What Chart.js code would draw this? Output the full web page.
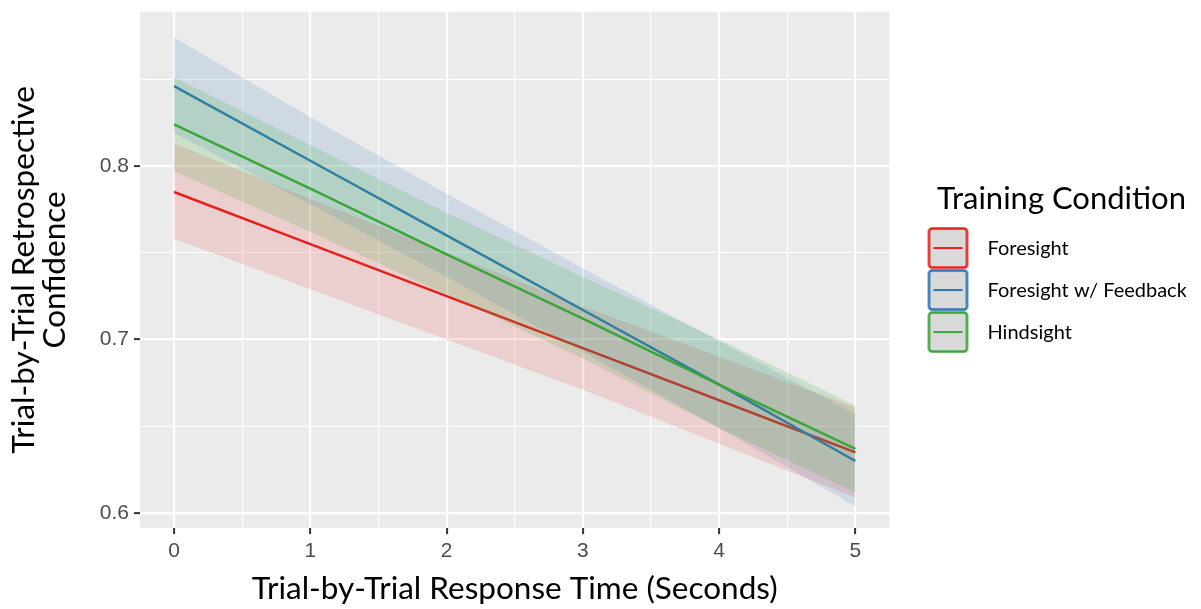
<!DOCTYPE html>
<html>
<head>
<meta charset="utf-8">
<script src="https://cdn.jsdelivr.net/npm/chart.js@4.4.1/dist/chart.umd.min.js"></script>
<style>
  html, body { margin: 0; padding: 0; background: #fff; }
  #wrap { width: 1201px; height: 609px; }
</style>
</head>
<body>
<div id="wrap"><canvas id="chart1"></canvas></div>
<script>
const timeSec = [0, 1, 2, 3, 4, 5]

const foresightFit   = [0.785, 0.755, 0.725, 0.695, 0.665, 0.635]
const foresightUpper = [0.813, 0.781, 0.750, 0.719, 0.690, 0.661]
const foresightLower = [0.758, 0.729, 0.700, 0.671, 0.640, 0.609]

const feedbackFit   = [0.846, 0.803, 0.760, 0.717, 0.674, 0.630]
const feedbackUpper = [0.874, 0.828, 0.784, 0.741, 0.699, 0.657]
const feedbackLower = [0.819, 0.778, 0.736, 0.693, 0.649, 0.604]

const hindsightFit   = [0.824, 0.787, 0.749, 0.712, 0.674, 0.637]
const hindsightUpper = [0.851, 0.812, 0.773, 0.736, 0.700, 0.662]
const hindsightLower = [0.797, 0.762, 0.726, 0.689, 0.649, 0.612]

const conditionNames = ['Foresight', 'Foresight w/ Feedback', 'Hindsight']
const xTicks = [0, 0.5, 1, 1.5, 2, 2.5, 3, 3.5, 4, 4.5, 5]
const yTicks = [0.6, 0.65, 0.7, 0.75, 0.8, 0.85]

const red = '#e8201c'
const blue = '#2e75b6'
const green = '#3aa63a'

function pts(arr) {
    return timeSec.map((t, i) => ({x: t, y: arr[i]}))
}

// legend key: grey box with coloured border and a line through it
function makeKey(color) {
    const c = document.createElement('canvas')
    c.width = 66
    c.height = 42
    const g = c.getContext('2d')
    g.fillStyle = '#d9d9d9'
    g.strokeStyle = color
    g.lineWidth = 2.5
    g.beginPath()
    g.roundRect(17.5, 1.5, 38, 39, 3)
    g.fill()
    g.stroke()
    g.beginPath()
    g.lineWidth = 2
    g.moveTo(22, 21)
    g.lineTo(51, 21)
    g.stroke()
    return c
}

const keyColors = [red, blue, green]

const bgPlugin = {
    id: 'panelBg',
    beforeDraw(chart) {
        const {ctx, chartArea} = chart
        ctx.save()
        ctx.fillStyle = '#ebebeb'
        ctx.fillRect(chartArea.left, chartArea.top, chartArea.right - chartArea.left, chartArea.bottom - chartArea.top)
        ctx.restore()
    }
}

function band(data, fillTo, color, order) {
    return {data: pts(data), borderWidth: 0, pointRadius: 0, fill: fillTo, backgroundColor: color, order: order}
}
function fitLine(label, data, color, order) {
    return {label: label, data: pts(data), borderColor: color, borderWidth: 2.5, pointRadius: 0, fill: false, order: order}
}

const isMajorX = v => Math.abs(v - Math.round(v)) < 1e-6
const isMajorY = v => Math.abs(v * 10 - Math.round(v * 10)) < 1e-6

const ctx1 = document.querySelector('#chart1').getContext('2d')
const chart1 = new Chart(ctx1, {
    type: 'line',
    data: {
        datasets: [
            band(foresightUpper, '+1', 'rgba(232,40,40,0.15)', 7),
            band(foresightLower, false, 'transparent', 7),
            fitLine(conditionNames[0], foresightFit, red, 6),
            band(feedbackUpper, '+1', 'rgba(46,117,182,0.15)', 5),
            band(feedbackLower, false, 'transparent', 5),
            fitLine(conditionNames[1], feedbackFit, blue, 4),
            band(hindsightUpper, '+1', 'rgba(60,170,60,0.18)', 3),
            band(hindsightLower, false, 'transparent', 3),
            fitLine(conditionNames[2], hindsightFit, green, 2),
        ]
    },
    options: {
        responsive: true,
        maintainAspectRatio: false,
        animation: false,
        layout: {padding: {top: 12, right: 15, left: 0, bottom: 0}},
        plugins: {
            tooltip: {enabled: false},
            legend: {
                position: 'right',
                align: 'start',
                title: {
                    display: true,
                    text: 'Training Condition',
                    position: 'end',
                    color: '#000',
                    font: {family: 'Lato', size: 31, lineHeight: 1.05},
                    padding: {top: 171.5, bottom: 0}
                },
                labels: {
                    usePointStyle: true,
                    pointStyleWidth: 66,
                    padding: 22,
                    color: '#000',
                    font: {family: 'Lato', size: 20},
                    generateLabels: () => conditionNames.map((name, i) => ({
                        text: name,
                        pointStyle: makeKey(keyColors[i]),
                        fontColor: '#000',
                        lineWidth: 0,
                        datasetIndex: i * 3 + 2
                    }))
                }
            }
        },
        scales: {
            x: {
                type: 'linear',
                min: -0.25,
                max: 5.25,
                afterBuildTicks: s => { s.ticks = xTicks.map(v => ({value: v})) },
                afterFit: s => { s.height = 81; s.paddingLeft = 0; s.paddingRight = 0 },
                border: {display: false},
                grid: {
                    color: '#ffffff',
                    lineWidth: c => isMajorX(c.tick.value) ? 2.2 : 1.1,
                    tickLength: 6,
                    tickWidth: 2,
                    tickColor: c => isMajorX(c.tick.value) ? '#333333' : 'rgba(0,0,0,0)'
                },
                ticks: {
                    autoSkip: false,
                    maxRotation: 0,
                    padding: 5,
                    color: '#4d4d4d',
                    font: {family: 'Liberation Sans', size: 21},
                    callback: v => isMajorX(v) ? String(Math.round(v)) : ''
                },
                title: {
                    display: true,
                    text: 'Trial-by-Trial Response Time (Seconds)',
                    color: '#000',
                    font: {family: 'Lato', size: 31.5, lineHeight: 1.1},
                    padding: {top: 0, bottom: 3}
                }
            },
            y: {
                type: 'linear',
                min: 0.5914,
                max: 0.8887,
                afterBuildTicks: s => { s.ticks = yTicks.map(v => ({value: v})) },
                afterFit: s => { s.width = 140; s.paddingTop = 0; s.paddingBottom = 0 },
                border: {display: false},
                grid: {
                    color: '#ffffff',
                    lineWidth: c => isMajorY(c.tick.value) ? 2.2 : 1.1,
                    tickLength: 6,
                    tickWidth: 2,
                    tickColor: c => isMajorY(c.tick.value) ? '#333333' : 'rgba(0,0,0,0)'
                },
                ticks: {
                    autoSkip: false,
                    padding: 5,
                    color: '#4d4d4d',
                    font: {family: 'Liberation Sans', size: 21},
                    callback: v => isMajorY(v) ? v.toFixed(1) : ''
                },
                title: {
                    display: true,
                    text: ['Trial-by-Trial Retrospective', 'Confidence'],
                    color: '#000',
                    font: {family: 'Lato', size: 31.5, lineHeight: 1.0},
                    padding: {top: 8, bottom: 0}
                }
            }
        }
    },
    plugins: [bgPlugin]
})
</script>
</body>
</html>
